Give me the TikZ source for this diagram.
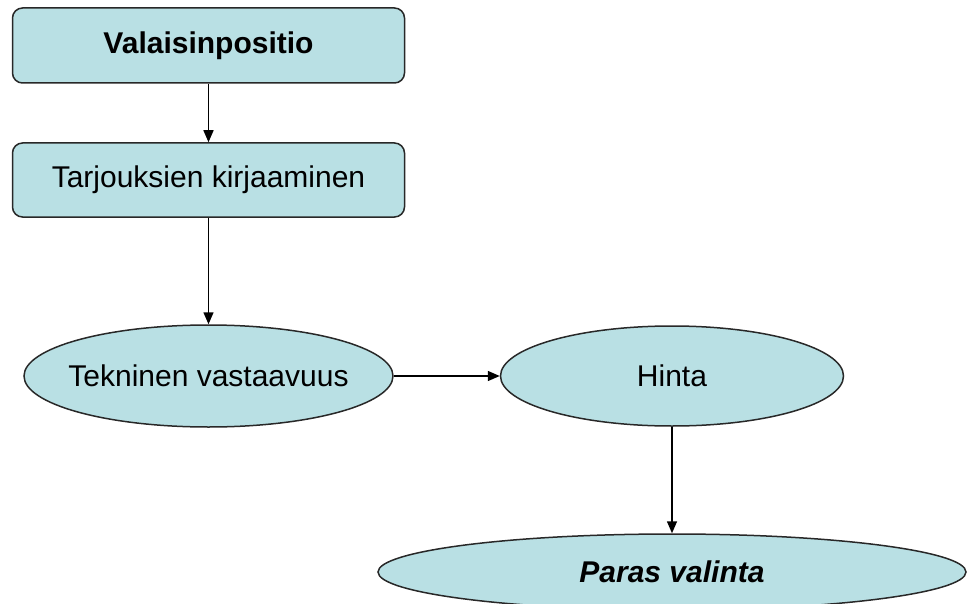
\documentclass[tikz,border=0pt]{standalone}
\usepackage{fontspec}
\setmainfont{Liberation Sans}
\usetikzlibrary{shapes.geometric,arrows.meta}
\definecolor{boxfill}{RGB}{185,224,228}
\definecolor{edgecol}{RGB}{40,40,40}
\tikzset{
  txt/.style={font=\fontsize{30}{36}\selectfont},
  stepbox/.style={draw=edgecol, line width=1.5pt, fill=boxfill, rounded corners=10pt,
    minimum width=392pt, inner sep=0pt, txt},
  oval/.style={draw=edgecol, line width=1.5pt, fill=boxfill, ellipse, inner sep=0pt},
  conn/.style={line width=1.5pt, -{Triangle[length=12pt,width=10pt]}}
}
\begin{document}
\begin{tikzpicture}[x=1pt,y=-1pt]
\useasboundingbox (0,0) rectangle (968,604);
\clip (0,0) rectangle (968,604);
\node[stepbox, minimum height=75pt] (b1) at (208.5,45.5) {\textbf{Valaisinpositio}};
\node[stepbox, minimum height=74pt] (b2) at (208.5,180) {Tarjouksien kirjaaminen};
\node[oval, minimum width=369pt, minimum height=102pt,
  label={[txt]center:Tekninen vastaavuus}] (e1) at (208.5,376) {};
\node[oval, minimum width=343pt, minimum height=100pt,
  label={[txt]center:Hinta}] (e2) at (672,376) {};
\node[oval, minimum width=588pt, minimum height=76pt,
  label={[txt]center:\textbf{\textit{Paras valinta}}}] (e3) at (672,572) {};
\draw[conn] (b1.south) -- (b2.north);
\draw[conn] (b2.south) -- (e1.north);
\draw[conn] (e1.east) -- (e2.west);
\draw[conn] (e2.south) -- (e3.north);
\end{tikzpicture}
\end{document}
